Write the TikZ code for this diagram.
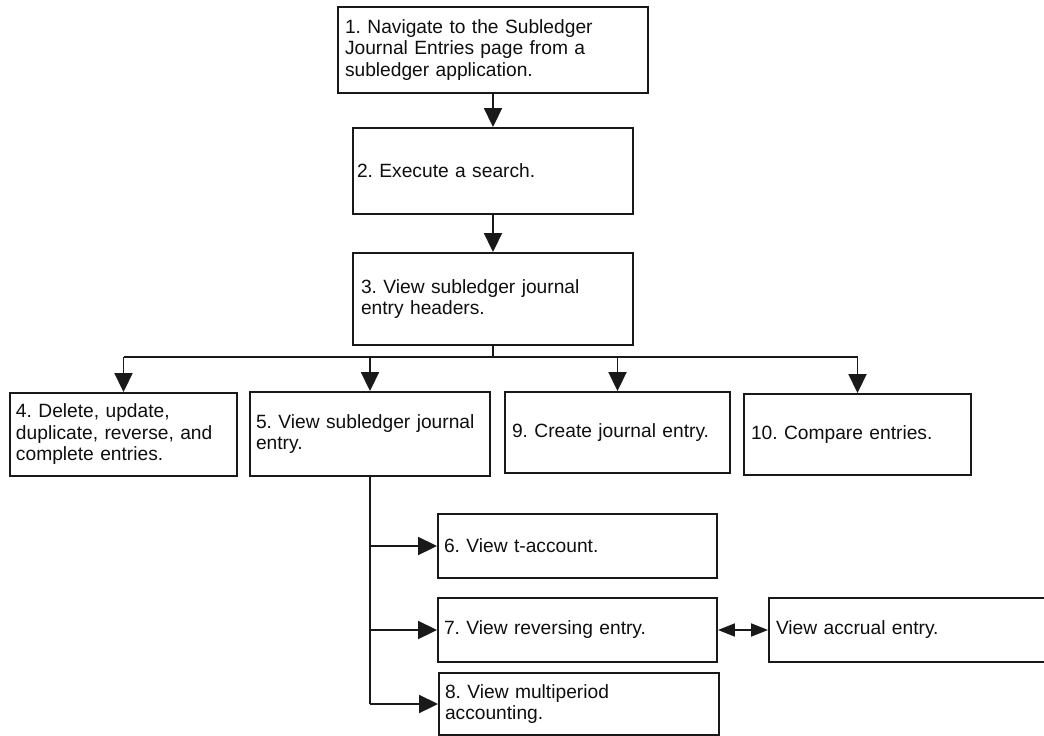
\documentclass[tikz,border=0pt]{standalone}
\usepackage{fontspec}
\setmainfont{Liberation Sans}
\usetikzlibrary{arrows.meta}
\definecolor{linec}{RGB}{25,25,25}
\definecolor{textc}{RGB}{15,15,15}
\begin{document}
\begin{tikzpicture}[x=1pt,y=-1pt,
  box/.style={draw=linec, line width=1.9pt, fill=white, rectangle, align=left,
    inner xsep=6pt, inner ysep=0pt, text=textc,
    font=\fontsize{19.2}{21.5}\selectfont\frenchspacing},
  conn/.style={draw=linec, line width=1.9pt},
  arr/.style={conn, -{Triangle[length=19pt,width=18pt]}},
  darr/.style={conn, {Triangle[length=17pt,width=13pt]}-{Triangle[length=17pt,width=13pt]}}
]
\clip (0,0) rectangle (1044,736);
\fill[white] (0,0) rectangle (1044,736);

% main column
\node[box, minimum width=310pt, minimum height=86pt, text width=296pt, inner xsep=7pt] (b1) at (493,50)
  {1. Navigate to the Subledger\\Journal Entries page from a\\subledger application.};
\node[box, minimum width=280pt, minimum height=86pt, text width=272pt, inner xsep=4pt] (b2) at (493,171)
  {2. Execute a search.};
\node[box, minimum width=280pt, minimum height=92pt, text width=264pt, inner xsep=8pt] (b3) at (493,299)
  {3. View subledger journal\\entry headers.};

% second row
\node[box, minimum width=227pt, minimum height=83pt, text width=215pt] (b4) at (123.5,434.5)
  {4. Delete, update,\\duplicate, reverse, and\\complete entries.};
\node[box, minimum width=240pt, minimum height=84pt, text width=228pt] (b5) at (370,434)
  {5. View subledger journal\\entry.};
\node[box, minimum width=225pt, minimum height=81pt, text width=211pt, inner xsep=7pt] (b9) at (617.5,432.5)
  {9. Create journal entry.};
\node[box, minimum width=227pt, minimum height=81pt, text width=213pt, inner xsep=7pt] (b10) at (857.5,434.5)
  {10. Compare entries.};

% sub-steps of 5
\node[box, minimum width=279pt, minimum height=64pt, text width=267pt] (b6) at (577.5,546)
  {6. View t-account.};
\node[box, minimum width=279pt, minimum height=64pt, text width=267pt] (b7) at (577.5,630)
  {7. View reversing entry.};
\node[box, minimum width=280pt, minimum height=62pt, text width=268pt] (b8) at (579,704)
  {8. View multiperiod\\accounting.};
\node[box, minimum width=300pt, minimum height=64pt, text width=286pt, inner xsep=7pt] (acc) at (919,630)
  {View accrual entry.};

% connectors
\draw[arr] (b1.south) -- (b2.north);
\draw[arr] (b2.south) -- (b3.north);
\coordinate (j) at (493,357);
\draw[conn] (b3.south) -- (j);
\draw[conn] (b4.north |- j) -- (b10.north |- j);
\draw[arr] (b4.north |- j) -- (b4.north);
\draw[arr] (b5.north |- j) -- (b5.north);
\draw[arr] (b9.north |- j) -- (b9.north);
\draw[arr] (b10.north |- j) -- (b10.north);

\draw[conn] (b5.south) -- (b5.south |- b8.west);
\draw[arr] (b5.south |- b6.west) -- (b6.west);
\draw[arr] (b5.south |- b7.west) -- (b7.west);
\draw[arr] (b5.south |- b8.west) -- (b8.west);

\draw[darr] (b7.east) -- (acc.west);
\end{tikzpicture}
\end{document}
